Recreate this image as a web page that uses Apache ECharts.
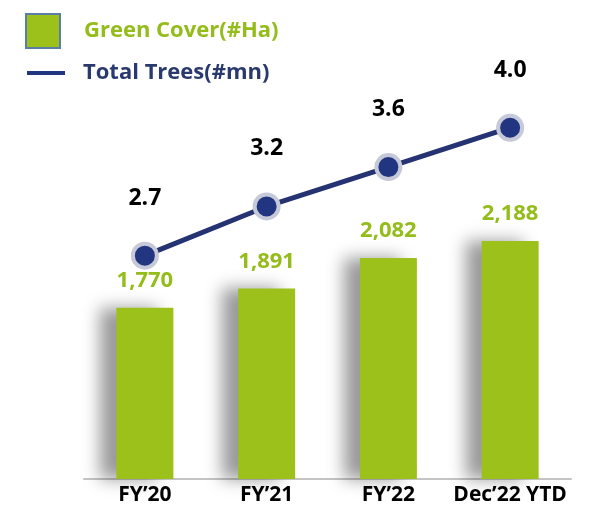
<!DOCTYPE html>
<html><head><meta charset="utf-8">
<script src="https://cdn.jsdelivr.net/npm/echarts@6/dist/echarts.min.js"></script>
<style>html,body{margin:0;padding:0;background:#fff}#c{width:592px;height:509px}</style>
</head><body><div id="c"></div>
<script>
const categories = ['FY’20', 'FY’21', 'FY’22', 'Dec’22 YTD'];
const greenCover = [1770, 1891, 2082, 2188];
const totalTrees = [2.7, 3.2, 3.6, 4.0];
const seriesNames = ['Green Cover(#Ha)', 'Total Trees(#mn)'];

const FONT = 'Open Sans';
const chart = echarts.init(document.getElementById('c'));
chart.setOption({
  animation: false,
  backgroundColor: '#ffffff',
  grid: { left: 84, right: 21, top: 111, bottom: 30 },
  legend: [
    {
      data: [{ name: seriesNames[0], icon: 'rect' }],
      left: 20, top: 8, itemWidth: 34, itemHeight: 34,
      itemStyle: { borderColor: '#5a7ea6', borderWidth: 2 },
      textStyle: { fontFamily: FONT, fontWeight: 'bold', fontSize: 22, color: '#94bc1a', padding: [0, 0, 0, 19] },
      selectedMode: false
    },
    {
      data: [{ name: seriesNames[1], icon: 'rect', itemStyle: { borderWidth: 0 } }],
      left: 22, top: 57, itemWidth: 38, itemHeight: 4,
      textStyle: { fontFamily: FONT, fontWeight: 'bold', fontSize: 22, color: '#2a3a6e', padding: [0, 0, 0, 13] },
      selectedMode: false
    }
  ],
  xAxis: {
    type: 'category', data: categories,
    axisLine: { show: true, lineStyle: { color: '#c4c4c4', width: 2 } },
    axisTick: { show: false },
    axisLabel: { interval: 0, fontFamily: FONT, fontWeight: 'bold', fontSize: 21, color: '#000', margin: 6 }
  },
  yAxis: [
    { type: 'value', min: 700, max: 3000, show: false, splitLine: { show: false } },
    { type: 'value', min: 0.43, max: 4.17, show: false, splitLine: { show: false } }
  ],
  series: [
    {
      name: seriesNames[0], type: 'bar', yAxisIndex: 0, data: greenCover, barWidth: 57,
      itemStyle: { color: '#9cc11a', shadowColor: 'rgba(0,0,0,0.4)', shadowBlur: 16, shadowOffsetX: -16 },
      label: {
        show: true, position: 'top', distance: 16,
        fontFamily: FONT, fontWeight: 'bold', fontSize: 22, color: '#94bc1a',
        formatter: p => p.value.toLocaleString('en-US')
      }
    },
    {
      name: seriesNames[1], type: 'line', yAxisIndex: 1, data: totalTrees,
      symbol: 'circle', symbolSize: 24,
      lineStyle: { color: '#253372', width: 5 },
      itemStyle: { color: '#223580', borderColor: '#c6cad8', borderWidth: 4 },
      label: {
        show: true, position: 'top', distance: 32,
        fontFamily: FONT, fontWeight: 'bold', fontSize: 23, color: '#000',
        formatter: p => p.value.toFixed(1)
      },
      z: 5
    }
  ]
});
</script></body></html>
